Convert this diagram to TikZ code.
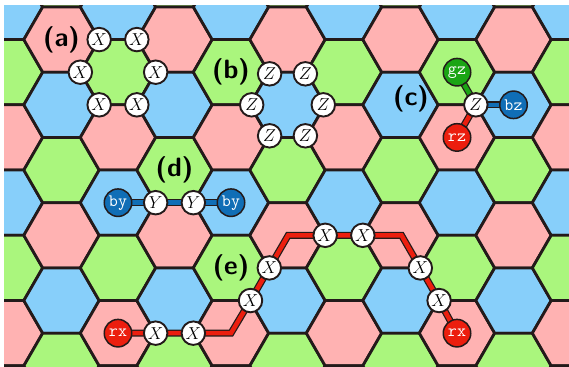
\documentclass[tikz,border=0pt]{standalone}
\definecolor{hexpink}{RGB}{255,178,178}
\definecolor{hexgreen}{RGB}{170,246,125}
\definecolor{hexblue}{RGB}{135,207,250}
\definecolor{edgecol}{RGB}{35,26,26}
\definecolor{ancred}{RGB}{236,30,14}
\definecolor{ancblue}{RGB}{16,110,182}
\definecolor{ancgreen}{RGB}{26,165,20}
\pgfdeclarelayer{lattice}
\pgfdeclarelayer{bonds}
\pgfsetlayers{lattice,bonds,main}
\tikzset{
  hexcell/.style={draw=edgecol, line width=2.8pt, line join=round},
  qb/.style={circle, draw=edgecol, line width=1.9pt, fill=white, minimum size=23.5pt, inner sep=0pt, font=\fontsize{17}{17}\selectfont},
  anc/.style={circle, draw=edgecol, line width=1.5pt, minimum size=27.5pt, inner sep=0pt, text=white, font=\fontsize{17.5}{17.5}\selectfont\ttfamily},
  lbl/.style={inner sep=0pt, font=\fontsize{26.5}{26.5}\selectfont\sffamily\bfseries},
  bondo/.style={draw=edgecol, line width=7pt},
  bondr/.style={draw=ancred, line width=4.5pt},
  bondb/.style={draw=ancblue, line width=4.5pt},
  bondg/.style={draw=ancgreen, line width=4.5pt}
}
\begin{document}
\begin{tikzpicture}[x=1pt,y=-1pt]
\useasboundingbox (0,0) rectangle (569,366);
\begin{pgfonlayer}{lattice}
\fill[white] (0,0) rectangle (569,366);
\begin{scope}
\clip (4,5.5) rectangle (569,366);
\foreach \i in {-2,...,8} {
  \foreach \k in {-2,...,5} {
    \pgfmathsetmacro{\cx}{118+56.5*\i}
    \pgfmathtruncatemacro{\pty}{mod(\i+10,2)}
    \pgfmathsetmacro{\cy}{72.2+65.24*\k+32.62*\pty}
    \pgfmathtruncatemacro{\cn}{mod(\k+31-\pty,3)}
    \ifcase\cn \def\hc{hexblue}\or \def\hc{hexgreen}\or \def\hc{hexpink}\fi
    \filldraw[hexcell, fill=\hc] (\cx+37.67,\cy) -- (\cx+18.835,\cy+32.62) -- (\cx-18.835,\cy+32.62) -- (\cx-37.67,\cy) -- (\cx-18.835,\cy-32.62) -- (\cx+18.835,\cy-32.62) -- cycle;
  }
}
\end{scope}
\end{pgfonlayer}

% labels
\node[lbl] (la) at (61.5,39.6) {(a)};
\node[lbl] (lb) at (231,72.2) {(b)};
\node[lbl] (lc) at (411,99) {(c)};
\node[lbl] (ld) at (174.5,170.06) {(d)};
\node[lbl] (le) at (231,267.92) {(e)};

% (a)
\node[qb] (a1) at (99.17,39.58) {$X$};
\node[qb] (a2) at (136.84,39.58) {$X$};
\node[qb] (a3) at (155.67,72.2) {$X$};
\node[qb] (a4) at (136.84,104.82) {$X$};
\node[qb] (a5) at (99.17,104.82) {$X$};
\node[qb] (a6) at (80.33,72.2) {$X$};

% (b)
\node[qb] (b1) at (269.61,73.83) {$Z$};
\node[qb] (b2) at (305.39,73.83) {$Z$};
\node[qb] (b3) at (323.29,104.82) {$Z$};
\node[qb] (b4) at (305.39,135.81) {$Z$};
\node[qb] (b5) at (269.61,135.81) {$Z$};
\node[qb] (b6) at (251.71,104.82) {$Z$};

% (c)
\node[qb] (cz) at (475.83,104.82) {$Z$};
\node[anc, fill=ancgreen] (gz) at (457,72.2) {gz};
\node[anc, fill=ancblue] (bz) at (513.5,104.82) {bz};
\node[anc, fill=ancred] (rz) at (457,137.44) {rz};

% (d)
\node[anc, fill=ancblue] (by1) at (118,202.68) {by};
\node[qb] (y1) at (155.67,202.68) {$Y$};
\node[qb] (y2) at (193.33,202.68) {$Y$};
\node[anc, fill=ancblue] (by2) at (231,202.68) {by};

% (e)
\node[anc, fill=ancred] (rx1) at (118,333.16) {rx};
\node[qb] (x1) at (155.67,333.16) {$X$};
\node[qb] (x2) at (193.33,333.16) {$X$};
\coordinate (e1) at (231,333.16);
\node[qb] (x3) at (250.5,300.54) {$X$};
\node[qb] (x4) at (269.3,267.92) {$X$};
\coordinate (e2) at (288.2,235.3);
\node[qb] (x5) at (325.17,235.3) {$X$};
\node[qb] (x6) at (362.83,235.3) {$X$};
\coordinate (e3) at (401.5,235.3);
\node[qb] (x7) at (420.3,267.92) {$X$};
\node[qb] (x8) at (439.1,300.54) {$X$};
\node[anc, fill=ancred] (rx2) at (457,333.16) {rx};

\begin{pgfonlayer}{bonds}
\draw[bondo] (cz.center) -- (gz.center);
\draw[bondg] (cz.center) -- (gz.center);
\draw[bondo] (cz.center) -- (bz.center);
\draw[bondb] (cz.center) -- (bz.center);
\draw[bondo] (cz.center) -- (rz.center);
\draw[bondr] (cz.center) -- (rz.center);
\draw[bondo] (by1.center) -- (y1.center) -- (y2.center) -- (by2.center);
\draw[bondb] (by1.center) -- (y1.center) -- (y2.center) -- (by2.center);
\draw[bondo] (rx1.center) -- (x1.center) -- (x2.center) -- (e1) -- (x3.center) -- (x4.center) -- (e2) -- (x5.center) -- (x6.center) -- (e3) -- (x7.center) -- (x8.center) -- (rx2.center);
\draw[bondr] (rx1.center) -- (x1.center) -- (x2.center) -- (e1) -- (x3.center) -- (x4.center) -- (e2) -- (x5.center) -- (x6.center) -- (e3) -- (x7.center) -- (x8.center) -- (rx2.center);
\end{pgfonlayer}
\end{tikzpicture}
\end{document}
